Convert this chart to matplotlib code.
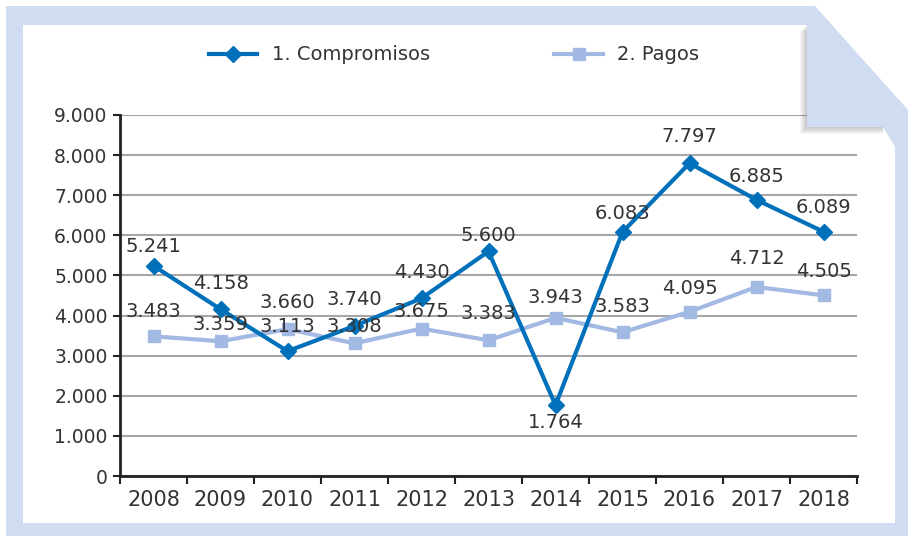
import matplotlib
matplotlib.use('Agg')
import matplotlib.pyplot as plt
from matplotlib.patches import Polygon
from matplotlib.ticker import FuncFormatter, FixedLocator

# data
years = ['2008', '2009', '2010', '2011', '2012', '2013', '2014', '2015', '2016', '2017', '2018']
compromisos = [5241, 4158, 3113, 3740, 4430, 5600, 1764, 6083, 7797, 6885, 6089]
pagos = [3483, 3359, 3660, 3308, 3675, 3383, 3943, 3583, 4095, 4712, 4505]
series_names = ['1. Compromisos', '2. Pagos']

# label nudges in pixels (positive = above the point)
comp_off = [19, 26, 25, 26, 26, 16, -17, 19, 27, 23, 24]
pag_off = [25, 17, 27, 17, 17, 27, 20, 26, 23, 28, 24]

W, H = 908, 536
c_comp = '#0070BA'
c_pag = '#A2B9E3'
c_frame = '#D0DCF1'
c_text = '#333333'

fig = plt.figure(figsize=(W / 100, H / 100), dpi=100)
fig.patch.set_facecolor('white')


def px(x, y):
    return (x / W, 1 - y / H)


def pixel_axes(z):
    a = fig.add_axes([0, 0, 1, 1], zorder=z)
    a.set_xlim(0, W)
    a.set_ylim(H, 0)
    a.axis('off')
    a.patch.set_alpha(0)
    return a


# background page with blue border
bg = pixel_axes(-5)
bg.add_patch(Polygon([(6, 6), (813, 6), (908, 110), (908, 536), (6, 536)],
                     facecolor=c_frame, edgecolor='none', zorder=1))
bg.add_patch(Polygon([(23, 25), (895, 25), (895, 523), (23, 523)],
                     facecolor='white', edgecolor='none', zorder=2))

ax = fig.add_axes([120 / W, 1 - 476 / H, 737 / W, 361 / H], zorder=1)
ax.set_facecolor('none')
x = list(range(len(years)))

ax.plot(x, compromisos, color=c_comp, lw=3, marker='D', ms=8, zorder=4, label=series_names[0])
ax.plot(x, pagos, color=c_pag, lw=3, marker='s', ms=9, zorder=3, label=series_names[1])


def fmt(v):
    return f'{v:,}'.replace(',', '.')


for xi, v, o in zip(x, compromisos, comp_off):
    ax.annotate(fmt(v), (xi, v), xytext=(0, o * 0.72), textcoords='offset points',
                ha='center', va='center', fontsize=14, color=c_text, zorder=6)
for xi, v, o in zip(x, pagos, pag_off):
    ax.annotate(fmt(v), (xi, v), xytext=(0, o * 0.72), textcoords='offset points',
                ha='center', va='center', fontsize=14, color=c_text, zorder=6)

ax.set_xlim(-0.5, len(years) - 0.5)
ax.set_ylim(0, 9000)
ax.set_yticks(range(0, 9001, 1000))
ax.yaxis.set_major_formatter(FuncFormatter(lambda v, p: '0' if v == 0 else fmt(int(v))))
ax.grid(axis='y', color='#A6A6A6', lw=1.5, zorder=0)
ax.set_axisbelow(True)

ax.set_xticks(x)
ax.set_xticklabels(years)
ax.xaxis.set_minor_locator(FixedLocator([i - 0.5 for i in range(len(years) + 1)]))
ax.tick_params(axis='x', which='major', length=0, pad=10, labelsize=15, labelcolor=c_text)
ax.tick_params(axis='x', which='minor', length=6, width=1.5, direction='out', color='#222222')
ax.tick_params(axis='y', which='major', length=5, width=1.5, direction='out', pad=4,
               labelsize=13.5, labelcolor=c_text, color='#222222')

for s in ['top', 'right']:
    ax.spines[s].set_visible(False)
for s in ['left', 'bottom']:
    ax.spines[s].set_color('#222222')
    ax.spines[s].set_linewidth(2)

fig.legend(loc='center', bbox_to_anchor=px(454, 55), ncol=2, frameon=False,
           fontsize=14, handlelength=2.5, handletextpad=0.75, columnspacing=6.4,
           labelcolor=c_text)

# folded corner with a soft shadow, on top of the chart
fg = pixel_axes(5)
for d in range(1, 8):
    fg.add_patch(Polygon([(807 - d, 24 + d), (807, 24 + d), (807, 127), (883, 127),
                          (883, 127 + d), (807 - d, 127 + d)],
                         facecolor='#404040', alpha=0.045, edgecolor='none', zorder=1))
fg.add_patch(Polygon([(883, 127), (908, 127), (908, 150), (897, 150)],
                     facecolor=c_frame, edgecolor='none', zorder=2))
fg.add_patch(Polygon([(807, 6), (815, 6), (908, 110), (908, 127), (807, 127)],
                     facecolor=c_frame, edgecolor='none', zorder=3))

fig.savefig('out.png', dpi=100)
